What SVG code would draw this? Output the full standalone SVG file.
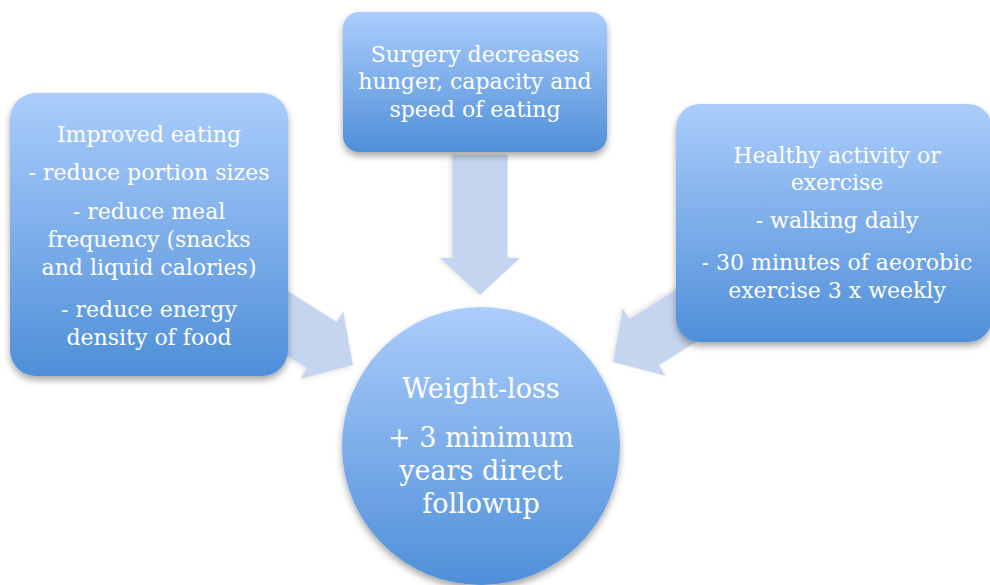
<svg xmlns="http://www.w3.org/2000/svg" width="990" height="585" viewBox="0 0 990 585">
  <style>
    .node { fill: url(#blueFill); filter: url(#softShadow); }
    .arrow { fill: #c5d5ef; filter: url(#arrowShadow); }
    .label { font-family: "DejaVu Serif", "Liberation Serif", serif; font-size: 22px; fill: #ffffff; text-anchor: middle; }
    .big { font-size: 27px; }
  </style>
  <defs>
    <linearGradient id="blueFill" x1="0" y1="0" x2="0" y2="1">
      <stop offset="0" stop-color="#abcdfc"/>
      <stop offset="1" stop-color="#4f8fd8"/>
    </linearGradient>
    <filter id="softShadow" x="-10%" y="-10%" width="125%" height="130%">
      <feDropShadow dx="0" dy="4" stdDeviation="3.5" flood-color="#000000" flood-opacity="0.35"/>
    </filter>
    <filter id="arrowShadow" x="-10%" y="-10%" width="130%" height="130%">
      <feDropShadow dx="0" dy="2" stdDeviation="2" flood-color="#000000" flood-opacity="0.12"/>
    </filter>
    <!-- block arrow, tip at origin, pointing along +x -->
    <polygon id="blockArrow" points="-140,-27.5 -37,-27.5 -37,-40 0,0 -37,40 -37,27.5 -140,27.5"/>
  </defs>

  <g id="connectors">
    <use href="#blockArrow" class="arrow" transform="translate(480,295) rotate(90)"/>
    <use href="#blockArrow" class="arrow" transform="translate(353,365) rotate(32.5)"/>
    <use href="#blockArrow" class="arrow" transform="translate(613,362) rotate(147.6)"/>
  </g>

  <g id="improved-eating">
    <rect class="node" x="10" y="93" width="278" height="283" rx="26"/>
    <text class="label" x="149" y="142">Improved eating</text>
    <text class="label" x="149" y="180">- reduce portion sizes</text>
    <text class="label" x="149" y="219">- reduce meal</text>
    <text class="label" x="149" y="247">frequency (snacks</text>
    <text class="label" x="149" y="275">and liquid calories)</text>
    <text class="label" x="149" y="317">- reduce energy</text>
    <text class="label" x="149" y="345">density of food</text>
  </g>

  <g id="surgery">
    <rect class="node" x="343" y="12" width="264" height="140" rx="16"/>
    <text class="label" x="475" y="62">Surgery decreases</text>
    <text class="label" x="475" y="89">hunger, capacity and</text>
    <text class="label" x="475" y="117">speed of eating</text>
  </g>

  <g id="healthy-activity">
    <rect class="node" x="676" y="104" width="316" height="238" rx="24"/>
    <text class="label" x="837" y="163">Healthy activity or</text>
    <text class="label" x="837" y="190">exercise</text>
    <text class="label" x="837" y="228">- walking daily</text>
    <text class="label" x="837" y="270">- 30 minutes of aeorobic</text>
    <text class="label" x="837" y="298">exercise 3 x weekly</text>
  </g>

  <g id="weight-loss">
    <circle class="node" cx="481" cy="446" r="139"/>
    <text class="label big" x="481" y="398">Weight-loss</text>
    <text class="label big" x="481" y="447">+ 3 minimum</text>
    <text class="label big" x="481" y="480">years direct</text>
    <text class="label big" x="481" y="513">followup</text>
  </g>
</svg>
